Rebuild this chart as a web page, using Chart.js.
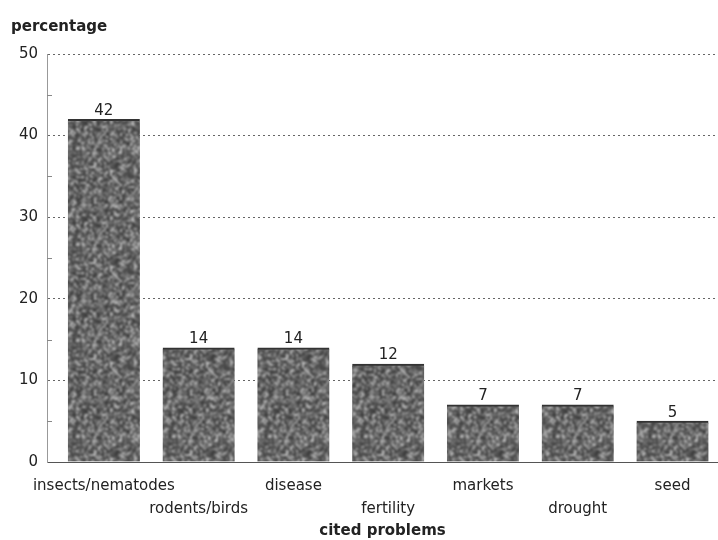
<!DOCTYPE html>
<html>
<head>
<meta charset="utf-8">
<script src="https://cdn.jsdelivr.net/npm/chart.js@4/dist/chart.umd.min.js"></script>
<style>
  html, body { margin: 0; padding: 0; background: #fff; }
  #wrap { width: 718px; height: 540px; position: relative; }
</style>
</head>
<body>
<div id="wrap"><canvas id="c" width="718" height="540"></canvas></div>
<script>
// Share of farmers citing each production problem (%)
const categories = ['insects/nematodes', 'rodents/birds', 'disease', 'fertility', 'markets', 'drought', 'seed'];
const percentages = [42, 14, 14, 12, 7, 7, 5];
const yTicks = [0, 10, 20, 30, 40, 50];
const minorTicks = [5, 15, 25, 35, 45];

const FONT = '"DejaVu Sans", "Liberation Sans", sans-serif';

// speckled grey fill for the bars (deterministic generator, softened grain)
function makeStipple() {
  const cells = 48, cell = 2, size = cells * cell;
  const raw = document.createElement('canvas');
  raw.width = size; raw.height = size;
  const rctx = raw.getContext('2d');
  let seed = 12345;
  const rnd = () => { seed = (seed * 1103515245 + 12345) & 0x7fffffff; return seed / 0x7fffffff; };
  for (let yy = 0; yy < cells; yy++) {
    for (let xx = 0; xx < cells; xx++) {
      const r = rnd();
      let g;
      if (r < 0.45) g = 55 + rnd() * 35;
      else if (r < 0.8) g = 95 + rnd() * 40;
      else g = 140 + rnd() * 60;
      g = Math.round(g);
      rctx.fillStyle = `rgb(${g},${g},${g})`;
      rctx.fillRect(xx * cell, yy * cell, cell, cell);
    }
  }
  // tile 3x3, blur the whole sheet, keep the centre tile so edges wrap seamlessly
  const big = document.createElement('canvas');
  big.width = size * 3; big.height = size * 3;
  const bctx = big.getContext('2d');
  for (let i = 0; i < 3; i++) for (let j = 0; j < 3; j++) bctx.drawImage(raw, i * size, j * size);
  const soft = document.createElement('canvas');
  soft.width = size * 3; soft.height = size * 3;
  const sctx = soft.getContext('2d');
  sctx.filter = 'blur(0.9px)';
  sctx.drawImage(big, 0, 0);
  const out = document.createElement('canvas');
  out.width = size; out.height = size;
  out.getContext('2d').drawImage(soft, size, size, size, size, 0, 0, size, size);
  return out.getContext('2d').createPattern(out, 'repeat');
}

const valueLabels = {
  id: 'valueLabels',
  afterDatasetsDraw(chart) {
    const ctx = chart.ctx;
    const meta = chart.getDatasetMeta(0);
    ctx.save();
    ctx.font = '15px ' + FONT;
    ctx.fillStyle = '#222';
    ctx.textAlign = 'center';
    ctx.textBaseline = 'bottom';
    meta.data.forEach((bar, i) => {
      ctx.fillText(String(percentages[i]), bar.x, bar.y - 1);
    });
    ctx.restore();
  }
};

const axisExtras = {
  id: 'axisExtras',
  afterDraw(chart) {
    const ctx = chart.ctx;
    const y = chart.scales.y;
    const left = chart.chartArea.left;
    ctx.save();
    ctx.strokeStyle = '#888';
    ctx.lineWidth = 1;
    minorTicks.forEach(v => {
      const py = Math.round(y.getPixelForValue(v)) + 0.5;
      ctx.beginPath(); ctx.moveTo(left, py); ctx.lineTo(left + 5, py); ctx.stroke();
    });
    ctx.font = 'bold 15px ' + FONT;
    ctx.fillStyle = '#222';
    ctx.textAlign = 'left';
    ctx.textBaseline = 'middle';
    ctx.fillText('percentage', 11, 27);
    ctx.restore();
  }
};

new Chart(document.getElementById('c'), {
  type: 'bar',
  data: {
    datasets: [{
      data: percentages.map((v, i) => ({ x: i, y: v })),
      backgroundColor: makeStipple(),
      borderColor: '#333',
      borderWidth: { top: 2, left: 0, right: 0, bottom: 0 },
      borderSkipped: 'bottom',
      barThickness: 72
    }]
  },
  options: {
    responsive: false,
    animation: false,
    layout: { padding: { top: 54, right: 0, left: 0, bottom: 0 } },
    plugins: { legend: { display: false }, tooltip: { enabled: false }, title: { display: false } },
    scales: {
      x: {
        type: 'linear',
        offset: false,
        min: -0.6,
        max: 6.48,
        afterBuildTicks(scale) { scale.ticks = categories.map((c, i) => ({ value: i })); },
        afterFit(scale) { scale.height = 78; },
        grid: { display: false, offset: false },
        border: { display: true, color: '#555', width: 1 },
        ticks: {
          autoSkip: false,
          maxRotation: 0,
          padding: 5,
          color: '#222',
          font: { family: FONT, size: 15, lineHeight: 1.5 },
          callback: (v) => {
            const i = Math.round(v);
            return i % 2 === 0 ? [categories[i], ''] : ['', categories[i]];
          }
        },
        title: {
          display: true,
          text: 'cited problems',
          color: '#222',
          font: { family: FONT, size: 15, weight: 'bold' },
          padding: { top: 0, bottom: 0 }
        }
      },
      y: {
        min: 0,
        max: 50,
        afterBuildTicks(scale) { scale.ticks = yTicks.map(v => ({ value: v })); },
        afterFit(scale) { scale.width = 47; },
        grid: {
          color: (c) => c.tick && c.tick.value === 0 ? 'rgba(0,0,0,0)' : '#666',
          lineWidth: 1,
          drawTicks: false
        },
        // dash pattern applies to the horizontal grid lines
        border: { display: true, color: '#999', dash: [2, 3] },
        ticks: {
          padding: 9,
          color: '#222',
          font: { family: FONT, size: 15 },
          callback: (v) => String(v)
        }
      }
    }
  },
  plugins: [valueLabels, axisExtras]
});
</script>
</body>
</html>
